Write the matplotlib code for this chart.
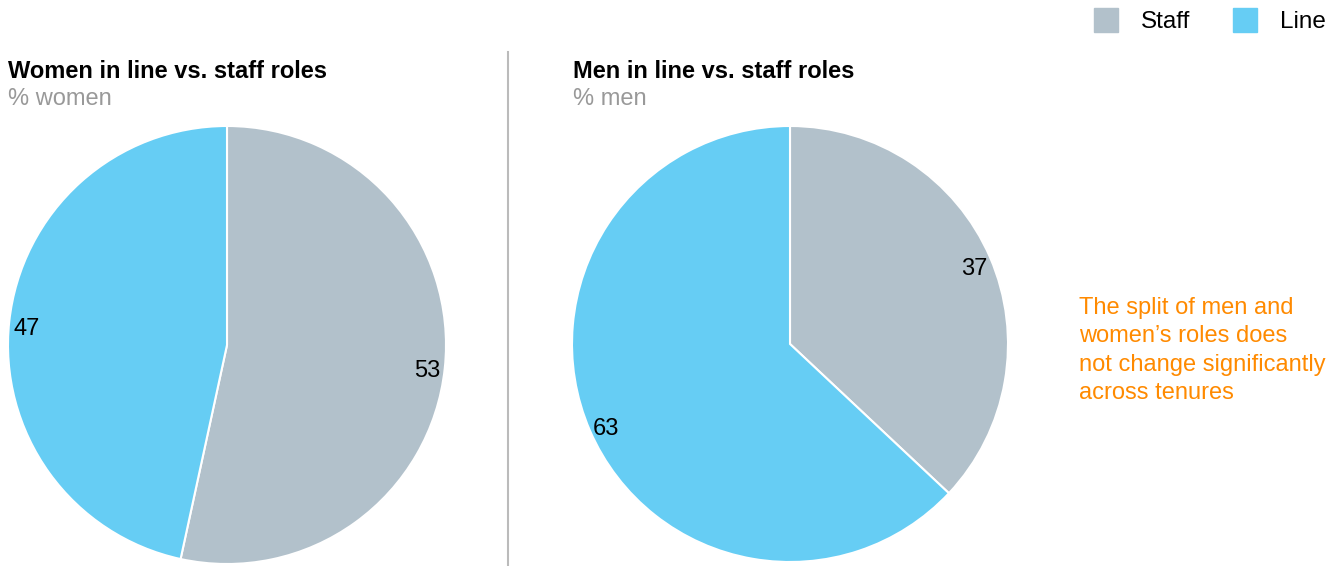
import matplotlib.pyplot as plt
from matplotlib.transforms import offset_copy

plt.rcParams['font.family'] = ['Liberation Sans', 'DejaVu Sans']

labels = ['Staff', 'Line']
women = [53.4, 46.6]
men = [37, 63]
colors = ['#B2C1CB', '#66CDF4']

W, H = 1340, 566
fig = plt.figure(figsize=(W / 100, H / 100), dpi=100)


def pie_axes(cx, cy, r):
    ax = fig.add_axes([(cx - r) / W, (H - cy - r) / H, 2 * r / W, 2 * r / H])
    return ax


def draw_pie(ax, vals, dist):
    _, _, autotexts = ax.pie(vals, colors=colors, startangle=90, counterclock=False,
                             autopct=lambda p: f'{p:.0f}', pctdistance=dist,
                             wedgeprops=dict(edgecolor='white', linewidth=1.5),
                             textprops=dict(fontsize=17, color='black'))
    for t in autotexts:
        t.set_transform(offset_copy(ax.transData, fig=fig, y=-5, units='dots'))
    ax.set_xlim(-1, 1)
    ax.set_ylim(-1, 1)
    ax.set_aspect('equal')
    ax.axis('off')


ax1 = pie_axes(227, 345, 219)
draw_pie(ax1, women, 0.92)
ax2 = pie_axes(790, 344, 218)
draw_pie(ax2, men, 0.92)

# titles
fig.text(8 / W, 1 - 71 / H, 'Women in line vs. staff roles', fontsize=17,
         fontweight='bold', va='center', ha='left')
fig.text(8 / W, 1 - 99 / H, '% women', fontsize=17, color='#999999',
         va='center', ha='left')
fig.text(573 / W, 1 - 71 / H, 'Men in line vs. staff roles', fontsize=17,
         fontweight='bold', va='center', ha='left')
fig.text(573 / W, 1 - 99 / H, '% men', fontsize=17, color='#999999',
         va='center', ha='left')

# divider
fig.add_artist(plt.Line2D([508 / W, 508 / W], [0, 1 - 52 / H],
                          color='#BBBBBB', linewidth=1.5))

# legend
for x0, lab, c in [(1094, 'Staff', colors[0]), (1233, 'Line', colors[1])]:
    fig.add_artist(plt.Rectangle((x0 / W, 1 - 32 / H), 24 / W, 24 / H,
                                 color=c, transform=fig.transFigure))
    fig.text((x0 + 47) / W, 1 - 22 / H, lab, fontsize=17.5, va='center', ha='left')

# annotation
fig.text(1079 / W, 1 - 297 / H,
         'The split of men and\nwomen\u2019s roles does\nnot change significantly\nacross tenures',
         fontsize=17, color='#FF8A00', va='top', ha='left', linespacing=1.37)

fig.savefig('out.png', dpi=100)
